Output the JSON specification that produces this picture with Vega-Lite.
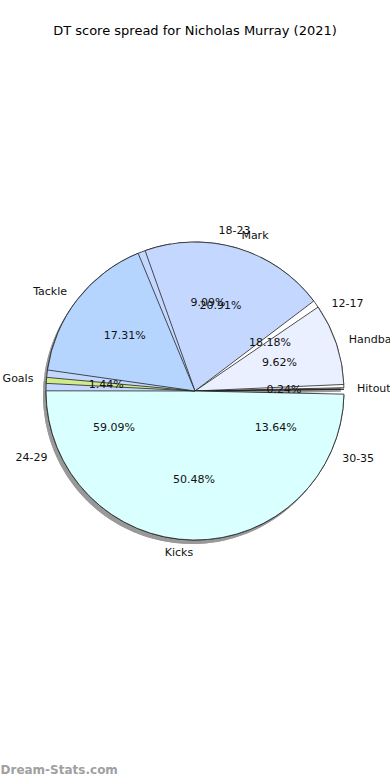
{
  "$schema": "https://vega.github.io/schema/vega-lite/v6.json",
  "width": 390,
  "height": 780,
  "autosize": {"type": "fit", "contains": "padding"},
  "padding": {"top": 25, "bottom": 5, "left": 0, "right": 0},
  "background": "white",
  "title": {"text": "DT score spread for Nicholas Murray (2021)", "font": "DejaVu Sans", "fontSize": 13, "fontWeight": "normal", "color": "black", "anchor": "middle", "offset": 8},
  "config": {"view": {"stroke": null}, "font": "DejaVu Sans"},
  "datasets": {
    "ages": [
      {"group": "18-23", "share": 0.0909, "seq": 1},
      {"group": "12-17", "share": 0.1818, "seq": 2},
      {"group": "30-35", "share": 0.1364, "seq": 3},
      {"group": "24-29", "share": 0.5909, "seq": 4}
    ],
    "stats": [
      {"group": "Mark", "share": 0.2091, "seq": 1},
      {"group": "Handball", "share": 0.0962, "seq": 2},
      {"group": "Hitout", "share": 0.0024, "seq": 3},
      {"group": "Kicks", "share": 0.5048, "seq": 4},
      {"group": "Goals", "share": 0.0144, "seq": 5},
      {"group": "Tackle", "share": 0.1731, "seq": 6}
    ]
  },
  "layer": [
    {
      "data": {"name": "ages"},
      "mark": {"type": "arc", "radius": 149, "padAngle": 0.05, "fill": "#999999", "xOffset": -3, "yOffset": 4},
      "encoding": {
        "theta": {"field": "share", "type": "quantitative", "stack": true, "scale": {"range": [-0.1396, 6.1436]}},
        "detail": {"field": "group"},
        "order": {"field": "seq"}
      }
    },
    {
      "data": {"name": "stats"},
      "mark": {"type": "arc", "radius": 149, "padAngle": 0.05, "fill": "#999999", "xOffset": -3, "yOffset": 4},
      "encoding": {
        "theta": {"field": "share", "type": "quantitative", "stack": true, "scale": {"range": [-0.3665, 5.9167]}},
        "detail": {"field": "group"},
        "order": {"field": "seq"}
      }
    },
    {
      "data": {"name": "ages"},
      "mark": {"type": "arc", "radius": 149, "padAngle": 0.05, "stroke": "#222222", "strokeWidth": 0.8},
      "encoding": {
        "theta": {"field": "share", "type": "quantitative", "stack": true, "scale": {"range": [-0.1396, 6.1436]}},
        "color": {"field": "group", "type": "nominal", "legend": null, "scale": {"domain": ["18-23", "12-17", "30-35", "24-29"], "range": ["#eaf0ff", "#ffffff", "#b5d5ff", "#c4d8ff"]}},
        "order": {"field": "seq"}
      }
    },
    {
      "data": {"name": "stats"},
      "mark": {"type": "arc", "radius": 149, "padAngle": 0.05, "stroke": "#222222", "strokeWidth": 0.8},
      "encoding": {
        "theta": {"field": "share", "type": "quantitative", "stack": true, "scale": {"range": [-0.3665, 5.9167]}},
        "color": {"field": "group", "type": "nominal", "legend": null, "scale": {"domain": ["Mark", "Handball", "Hitout", "Kicks", "Goals", "Tackle"], "range": ["#c4d8ff", "#eaf0ff", "#ffffff", "#d9ffff", "#d0eb8a", "#b5d5ff"]}},
        "order": {"field": "seq"}
      }
    },
    {
      "data": {"name": "ages"},
      "mark": {"type": "text", "radius": 89, "fontSize": 11, "font": "DejaVu Sans", "color": "#111111", "align": "center", "baseline": "middle"},
      "encoding": {
        "theta": {"field": "share", "type": "quantitative", "stack": true, "scale": {"range": [-0.1396, 6.1436]}},
        "detail": {"field": "group"},
        "order": {"field": "seq"},
        "text": {"field": "share", "type": "quantitative", "format": ".2%"}
      }
    },
    {
      "data": {"name": "stats"},
      "mark": {"type": "text", "radius": 89, "fontSize": 11, "font": "DejaVu Sans", "color": "#111111", "align": "center", "baseline": "middle"},
      "encoding": {
        "theta": {"field": "share", "type": "quantitative", "stack": true, "scale": {"range": [-0.3665, 5.9167]}},
        "detail": {"field": "group"},
        "order": {"field": "seq"},
        "text": {"field": "share", "type": "quantitative", "format": ".2%"}
      }
    },
    {
      "data": {"name": "ages"},
      "mark": {"type": "text", "radius": 162, "fontSize": 11, "font": "DejaVu Sans", "color": "#111111", "align": "left", "baseline": "middle", "clip": true},
      "encoding": {
        "theta": {"field": "share", "type": "quantitative", "stack": true, "scale": {"range": [-0.1396, 6.1436]}},
        "detail": {"field": "group"},
        "order": {"field": "seq"},
        "text": {"condition": {"test": "indexof(['18-23','12-17','30-35'], datum.group) >= 0", "field": "group", "type": "nominal"}, "value": ""}
      }
    },
    {
      "data": {"name": "ages"},
      "mark": {"type": "text", "radius": 162, "fontSize": 11, "font": "DejaVu Sans", "color": "#111111", "align": "right", "baseline": "middle"},
      "encoding": {
        "theta": {"field": "share", "type": "quantitative", "stack": true, "scale": {"range": [-0.1396, 6.1436]}},
        "detail": {"field": "group"},
        "order": {"field": "seq"},
        "text": {"condition": {"test": "datum.group == '24-29'", "field": "group", "type": "nominal"}, "value": ""}
      }
    },
    {
      "data": {"name": "stats"},
      "mark": {"type": "text", "radius": 162, "fontSize": 11, "font": "DejaVu Sans", "color": "#111111", "align": "left", "baseline": "middle", "clip": true},
      "encoding": {
        "theta": {"field": "share", "type": "quantitative", "stack": true, "scale": {"range": [-0.3665, 5.9167]}},
        "detail": {"field": "group"},
        "order": {"field": "seq"},
        "text": {"condition": {"test": "indexof(['Mark','Handball','Hitout'], datum.group) >= 0", "field": "group", "type": "nominal"}, "value": ""}
      }
    },
    {
      "data": {"name": "stats"},
      "mark": {"type": "text", "radius": 162, "fontSize": 11, "font": "DejaVu Sans", "color": "#111111", "align": "right", "baseline": "middle"},
      "encoding": {
        "theta": {"field": "share", "type": "quantitative", "stack": true, "scale": {"range": [-0.3665, 5.9167]}},
        "detail": {"field": "group"},
        "order": {"field": "seq"},
        "text": {"condition": {"test": "indexof(['Kicks','Goals','Tackle'], datum.group) >= 0", "field": "group", "type": "nominal"}, "value": ""}
      }
    },
    {
      "data": {"values": [{}]},
      "mark": {"type": "rule", "opacity": 0},
      "encoding": {
        "x": {"datum": 0, "type": "quantitative", "axis": {"title": "Dream-Stats.com", "orient": "bottom", "titleAnchor": "start", "titleAlign": "left", "domain": false, "ticks": false, "labels": false, "grid": false, "titleColor": "#a0a0a0", "titleFont": "DejaVu Sans", "titleFontSize": 12, "titleFontWeight": "bold", "titlePadding": 28}}
      }
    }
  ],
  "resolve": {"scale": {"theta": "independent", "color": "independent"}}
}
